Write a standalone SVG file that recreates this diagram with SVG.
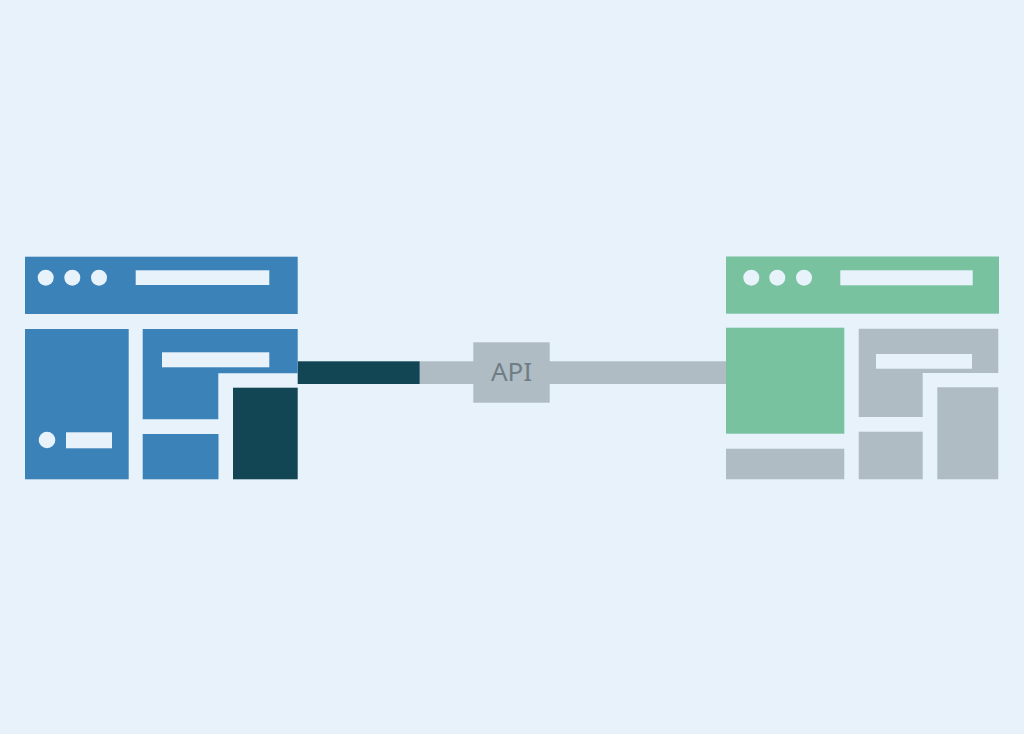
<svg xmlns="http://www.w3.org/2000/svg" width="1024" height="734" viewBox="0 0 1024 734">
<style>
.blue{fill:#3b82b8}.dark{fill:#124654}.green{fill:#78c2a0}.gray{fill:#afbcc4}.light{fill:#e8f2fb}
text{font-family:"Noto Sans","Liberation Sans",sans-serif;font-size:26px;fill:#6f7d85;text-anchor:middle}
</style>
<rect width="1024" height="734" class="light"/>
<g id="connectors">
<rect x="419.7" y="361.3" width="306.3" height="22.7" class="gray"/>
<rect x="297.7" y="361.3" width="122" height="22.7" class="dark"/>
</g>
<g id="left-app">
<rect x="25" y="256.7" width="272.7" height="57.3" class="blue"/>
<circle cx="45.7" cy="277.7" r="8" class="light"/>
<circle cx="72.3" cy="277.7" r="8" class="light"/>
<circle cx="99" cy="277.7" r="8" class="light"/>
<rect x="135.7" y="270.3" width="133.6" height="14.7" class="light"/>
<rect x="25" y="329" width="103.7" height="150.3" class="blue"/>
<circle cx="47" cy="440" r="8.3" class="light"/>
<rect x="66" y="432.3" width="46" height="16" class="light"/>
<path d="M142.7 329H297.7V373.3H218.3V419.3H142.7Z" class="blue"/>
<rect x="162" y="352.3" width="107.3" height="15" class="light"/>
<rect x="142.7" y="434" width="75.8" height="45.3" class="blue"/>
<rect x="233" y="387.7" width="64.7" height="91.6" class="dark"/>
</g>
<g id="api">
<rect x="473.3" y="342.3" width="76.4" height="60.4" class="gray"/>
<text x="511.5" y="381">API</text>
</g>
<g id="right-app">
<rect x="726" y="256.5" width="273" height="57.2" class="green"/>
<circle cx="751.3" cy="277.7" r="8" class="light"/>
<circle cx="777.3" cy="277.7" r="8" class="light"/>
<circle cx="804" cy="277.7" r="8" class="light"/>
<rect x="840.3" y="270.3" width="132.4" height="15" class="light"/>
<rect x="726" y="327.7" width="118.3" height="106" class="green"/>
<path d="M858.7 328.7H998.3V373H922.7V417H858.7Z" class="gray"/>
<rect x="876" y="354" width="96" height="14.7" class="light"/>
<rect x="726" y="448.7" width="118.3" height="30.6" class="gray"/>
<rect x="858.7" y="431.7" width="64" height="47.6" class="gray"/>
<rect x="937.3" y="387.3" width="61" height="92" class="gray"/>
</g>
</svg>
